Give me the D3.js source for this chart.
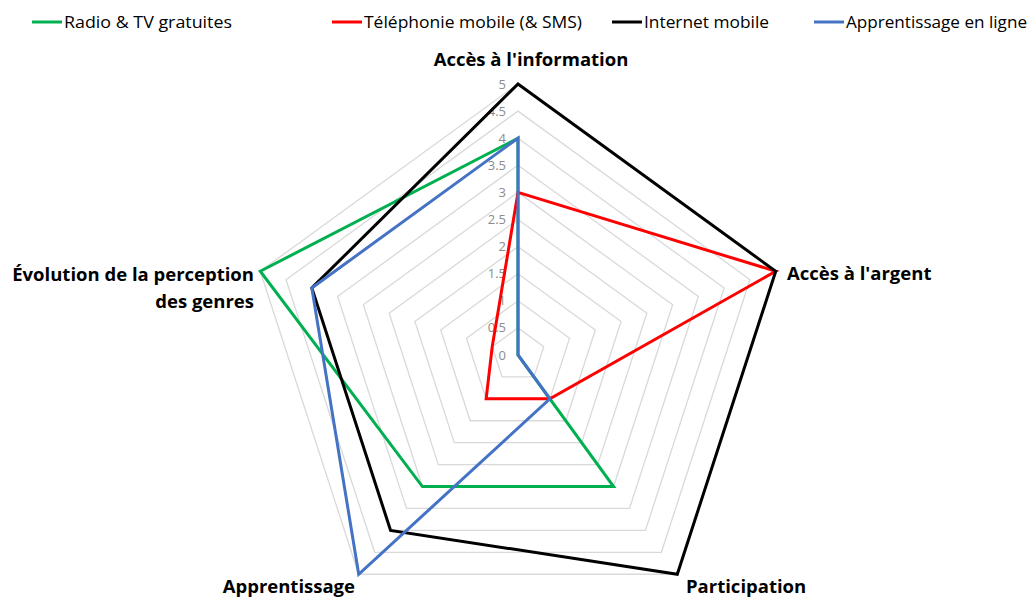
<!DOCTYPE html>
<html>
<head>
<meta charset="utf-8">
<script src="https://cdn.jsdelivr.net/npm/d3@7"></script>
<style>
  html, body { margin: 0; padding: 0; background: #fff; }
  svg { display: block; }
</style>
</head>
<body>
<svg id="chart" width="1027" height="597"></svg>
<script>
// Axes of the radar, clockwise from the top
const axes = [
  "Accès à l'information",
  "Accès à l'argent",
  "Participation",
  "Apprentissage",
  "Évolution de la perception des genres"
];

// Scores per technology on each axis (0–5)
const seriesNames = ["Radio & TV gratuites", "Téléphonie mobile (& SMS)", "Internet mobile", "Apprentissage en ligne"];
const radioTv     = [4, 0, 3, 3, 5];
const mobile      = [3, 5, 1, 1, 0.5];
const internet    = [5, 5, 5, 4, 4];
const eLearning   = [4, 0, 1, 5, 4];
const seriesColors = ["#00b050", "#ff0000", "#000000", "#4472c4"];

// Value axis ticks
const tickValues = [0, 0.5, 1, 1.5, 2, 2.5, 3, 3.5, 4, 4.5, 5];

const series = [radioTv, mobile, internet, eLearning];

const svg = d3.select("#chart");
const cx = 518, cy = 355;

const r = d3.scaleLinear().domain([0, 5]).range([0, 271]);
const angle = d3.scaleLinear().domain([0, axes.length]).range([0, 2 * Math.PI]);

const radial = d3.lineRadial()
  .angle((d, i) => angle(i))
  .radius(d => r(d))
  .curve(d3.curveLinearClosed);

const g = svg.append("g").attr("transform", `translate(${cx},${cy})`);

// Grid rings, one per tick
g.append("g").selectAll("path")
  .data(tickValues.filter(v => v > 0))
  .join("path")
  .attr("d", v => radial(axes.map(() => v)))
  .attr("fill", "none")
  .attr("stroke", "#d9d9d9")
  .attr("stroke-width", 1.3);

// Value tick labels along the top spoke
g.append("g").selectAll("text")
  .data(tickValues)
  .join("text")
  .attr("x", -12)
  .attr("y", v => -r(v))
  .attr("dy", "0.35em")
  .attr("text-anchor", "end")
  .attr("font-family", "Open Sans, sans-serif")
  .attr("font-size", 13)
  .attr("fill", "#8c8c8c")
  .text(v => String(v));

// Series polygons
g.append("g").selectAll("path")
  .data(series)
  .join("path")
  .attr("d", d => radial(d))
  .attr("fill", "none")
  .attr("stroke", (d, i) => seriesColors[i])
  .attr("stroke-width", 3)
  .attr("stroke-linejoin", "miter");

// Axis titles
function axisLabel(lines, x, y, anchor) {
  const t = svg.append("text")
    .attr("x", x).attr("y", y)
    .attr("text-anchor", anchor)
    .attr("font-family", "Open Sans, sans-serif")
    .attr("font-size", 18.5)
    .attr("font-weight", "bold")
    .attr("fill", "#000");
  lines.forEach((ln, i) => {
    t.append("tspan").attr("x", x).attr("dy", i === 0 ? 0 : 27).text(ln);
  });
}
axisLabel([axes[0]], 531, 66, "middle");
axisLabel([axes[1]], 787, 280, "start");
axisLabel(["Participation"], 686, 593, "start");
axisLabel(["Apprentissage"], 355, 593, "end");
axisLabel(["Évolution de la perception", "des genres"], 254, 281, "end");

// Legend
const legendX = [32, 332, 612, 814];
const legendW = [168, 218, 125, 181];
const legend = svg.append("g").selectAll("g")
  .data(seriesNames)
  .join("g")
  .attr("transform", (d, i) => `translate(${legendX[i]},22)`);
legend.append("line")
  .attr("x1", 0).attr("x2", 30)
  .attr("stroke", (d, i) => seriesColors[i])
  .attr("stroke-width", 3);
legend.append("text")
  .attr("x", 32)
  .attr("dy", "0.35em")
  .attr("font-family", "Open Sans, sans-serif")
  .attr("font-size", 17)
  .attr("textLength", (d, i) => legendW[i])
  .attr("lengthAdjust", "spacingAndGlyphs")
  .attr("fill", "#000")
  .text(d => d);
</script>
</body>
</html>
